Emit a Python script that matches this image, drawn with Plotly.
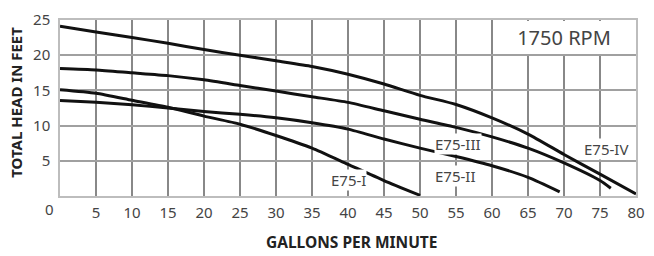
import plotly.graph_objects as go

# --- data ---
e75_iv_x = [0, 5, 10, 15, 20, 25, 30, 35, 40, 45, 50, 55, 60, 65, 70, 75, 80]
e75_iv_y = [24.1, 23.3, 22.5, 21.7, 20.8, 20.0, 19.2, 18.4, 17.3, 15.9, 14.3, 13.0, 11.1, 8.8, 5.9, 3.1, 0.3]

e75_iii_x = [0, 5, 10, 15, 20, 25, 30, 35, 40, 45, 50, 55, 60, 65, 70, 75, 76.5]
e75_iii_y = [18.1, 17.9, 17.5, 17.1, 16.5, 15.7, 14.9, 14.1, 13.3, 12.1, 10.9, 9.75, 8.4, 6.8, 4.7, 2.2, 1.1]

e75_ii_x = [0, 5, 10, 15, 20, 25, 30, 35, 40, 45, 50, 55, 60, 65, 69.4]
e75_ii_y = [13.55, 13.3, 12.95, 12.5, 12.0, 11.6, 11.1, 10.4, 9.5, 8.1, 6.8, 5.6, 4.3, 2.65, 0.6]

e75_i_x = [0, 5, 10, 15, 20, 25, 30, 35, 40, 45, 50]
e75_i_y = [15.1, 14.6, 13.6, 12.6, 11.35, 10.2, 8.6, 6.8, 4.5, 2.2, 0.1]

series_names = ["E75-IV", "E75-III", "E75-II", "E75-I"]
label_x = [75.8, 55.3, 54.9, 40.1]
label_y = [6.7, 7.4, 2.8, 2.27]

x_ticks = list(range(5, 85, 5))
y_ticks = [5, 10, 15, 20, 25]
x_range = [0, 80]
y_range = [0, 25]

FONT = "Noto Sans"
TXT = "#444444"

PW, PH = 585, 182  # plot area size in px

fig = go.Figure()
for xs, ys, name in [(e75_iv_x, e75_iv_y, "E75-IV"), (e75_iii_x, e75_iii_y, "E75-III"),
                     (e75_ii_x, e75_ii_y, "E75-II"), (e75_i_x, e75_i_y, "E75-I")]:
    fig.add_trace(go.Scatter(x=xs, y=ys, mode="lines", name=name,
                             line=dict(color="#111111", width=3, shape="spline", smoothing=0.6),
                             hoverinfo="skip"))

annotations = []
# white box with RPM label (covers grid lines in the top-right cell band)
annotations.append(dict(x=70.05, y=22.55, text="1750 RPM", showarrow=False,
                        width=142, height=33, bgcolor="white", borderpad=0, borderwidth=0,
                        font=dict(family=FONT, size=20, color=TXT)))
for name, lx, ly in zip(series_names, label_x, label_y):
    annotations.append(dict(x=lx, y=ly, text=name, showarrow=False, bgcolor="white",
                            borderpad=0,
                            font=dict(family=FONT, size=15, color=TXT)))
# corner zero label
annotations.append(dict(x=(49 - 60) / PW, y=(196 - 209) / PH, xref="paper", yref="paper", text="0",
                        showarrow=False, xanchor="center", yanchor="middle",
                        font=dict(family=FONT, size=15, color=TXT)))
annotations.append(dict(x=(357 - 60) / PW, y=(196 - 243.5) / PH, xref="paper", yref="paper",
                        text="<b>GALLONS PER MINUTE</b>", showarrow=False, yanchor="middle",
                        font=dict(family=FONT, size=15.5, color="#222222")))
annotations.append(dict(x=(16 - 60) / PW, y=(196 - 99) / PH, xref="paper", yref="paper",
                        text="<b>TOTAL HEAD IN FEET</b>", showarrow=False, textangle=-90,
                        xanchor="center", yanchor="middle",
                        font=dict(family=FONT, size=15, color="#222222")))

fig.update_layout(
    width=654, height=256,
    margin=dict(l=60, r=9, t=14, b=60),
    paper_bgcolor="white", plot_bgcolor="white",
    showlegend=False,
    annotations=annotations,
    xaxis=dict(range=x_range, tickvals=x_ticks, ticktext=[str(v) for v in x_ticks],
               showgrid=True, gridcolor="#888888", gridwidth=2,
               showline=True, mirror=True, linecolor="#bdbdbd", linewidth=1.5,
               zeroline=False, ticks="outside", ticklen=2, tickcolor="rgba(0,0,0,0)",
               tickfont=dict(family=FONT, size=15, color=TXT)),
    yaxis=dict(range=y_range, tickvals=y_ticks, ticktext=[str(v) for v in y_ticks],
               showgrid=True, gridcolor="#a0a0a0", gridwidth=1.5,
               showline=True, mirror=True, linecolor="#bdbdbd", linewidth=1.5,
               zeroline=False, ticks="outside", ticklen=5, tickcolor="rgba(0,0,0,0)",
               tickfont=dict(family=FONT, size=15, color=TXT)),
)

POST = """
document.body.style.margin='0';
var st = document.createElement('style');
st.textContent = '.modebar-container{visibility:hidden !important;}';
document.head.appendChild(st);
"""

fig.write_html("out.html", post_script=POST)
